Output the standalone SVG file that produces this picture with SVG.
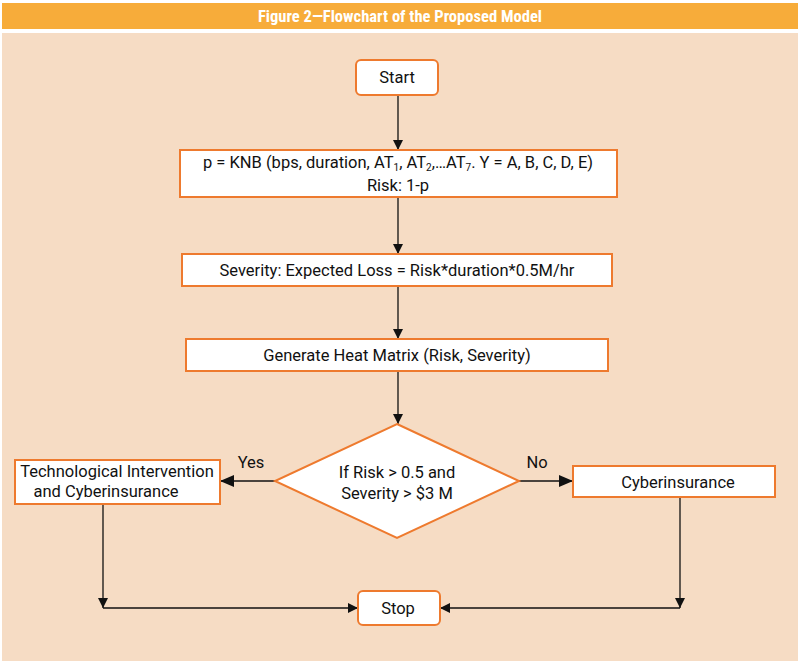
<svg xmlns="http://www.w3.org/2000/svg" width="800" height="664" viewBox="0 0 800 664">
<defs>
<style>
.box{fill:#fff;stroke:#ee7a2e;stroke-width:2}
.t{font-family:Roboto,"Liberation Sans",sans-serif;font-size:16.5px;fill:#111;text-anchor:middle}
.c{stroke:#111;stroke-width:1.3;fill:none}
</style>
<marker id="a" viewBox="0 0 10 10" refX="10" refY="5" markerWidth="10" markerHeight="10" markerUnits="userSpaceOnUse" orient="auto"><path d="M0,0L10,5L0,10z" fill="#111"/></marker>
<marker id="b" viewBox="0 0 14 12" refX="14" refY="6" markerWidth="14" markerHeight="12" markerUnits="userSpaceOnUse" orient="auto"><path d="M0,0L14,6L0,12z" fill="#111"/></marker>
</defs>
<rect width="800" height="664" fill="#fff"/>
<rect x="2" y="3" width="796" height="26" fill="#f7ac3a"/>
<text x="400" y="22" font-family="'Roboto Condensed','Liberation Sans Narrow','Liberation Sans',sans-serif" font-weight="bold" font-size="16" fill="#fff" text-anchor="middle" textLength="284" lengthAdjust="spacingAndGlyphs">Figure 2—Flowchart of the Proposed Model</text>
<rect x="2" y="33" width="796" height="628" fill="#f6dcc4"/>
<g id="connectors">
<path class="c" d="M398,95V150" marker-end="url(#a)"/>
<path class="c" d="M398,197V254" marker-end="url(#a)"/>
<path class="c" d="M398,286V339" marker-end="url(#a)"/>
<path class="c" d="M398,371V424" marker-end="url(#a)"/>
<path class="c" d="M275,481H220" marker-end="url(#b)"/>
<path class="c" d="M519,481H573" marker-end="url(#b)"/>
<path class="c" d="M103,504V608" marker-end="url(#a)"/>
<path class="c" d="M103,608H358" marker-end="url(#a)"/>
<path class="c" d="M680,497V608" marker-end="url(#a)"/>
<path class="c" d="M680,608H440" marker-end="url(#a)"/>
<text class="t" x="251" y="468">Yes</text>
<text class="t" x="537" y="468">No</text>
</g>
<g id="start"><rect class="box" x="356" y="60" width="82" height="35" rx="5"/><text class="t" x="397" y="83">Start</text></g>
<g id="model"><rect class="box" x="180" y="150" width="437" height="47"/>
<text class="t" x="398" y="168">p = KNB (bps, duration, AT<tspan font-size="10" dy="3">1</tspan><tspan dy="-3">, AT</tspan><tspan font-size="10" dy="3">2</tspan><tspan dy="-3">,…AT</tspan><tspan font-size="10" dy="3">7</tspan><tspan dy="-3">. Y = A, B, C, D, E)</tspan></text>
<text class="t" x="398" y="191">Risk: 1-p</text></g>
<g id="severity"><rect class="box" x="182" y="254" width="430" height="32"/><text class="t" x="397" y="276">Severity: Expected Loss = Risk*duration*0.5M/hr</text></g>
<g id="heat"><rect class="box" x="186" y="339" width="422" height="32"/><text class="t" x="397" y="361">Generate Heat Matrix (Risk, Severity)</text></g>
<g id="decision"><path class="box" d="M397,424L519,481L397,538L275,481Z"/><text class="t" x="397" y="478">If Risk &gt; 0.5 and</text><text class="t" x="397" y="499">Severity &gt; $3 M</text></g>
<g id="tech"><rect class="box" x="15" y="460" width="205" height="44"/><text class="t" x="117" y="477">Technological Intervention</text><text class="t" x="106" y="497">and Cyberinsurance</text></g>
<g id="cyber"><rect class="box" x="573" y="466" width="202" height="31"/><text class="t" x="678" y="488">Cyberinsurance</text></g>
<g id="stop"><rect class="box" x="358" y="591" width="82" height="34" rx="5"/><text class="t" x="398" y="614">Stop</text></g>
</svg>
